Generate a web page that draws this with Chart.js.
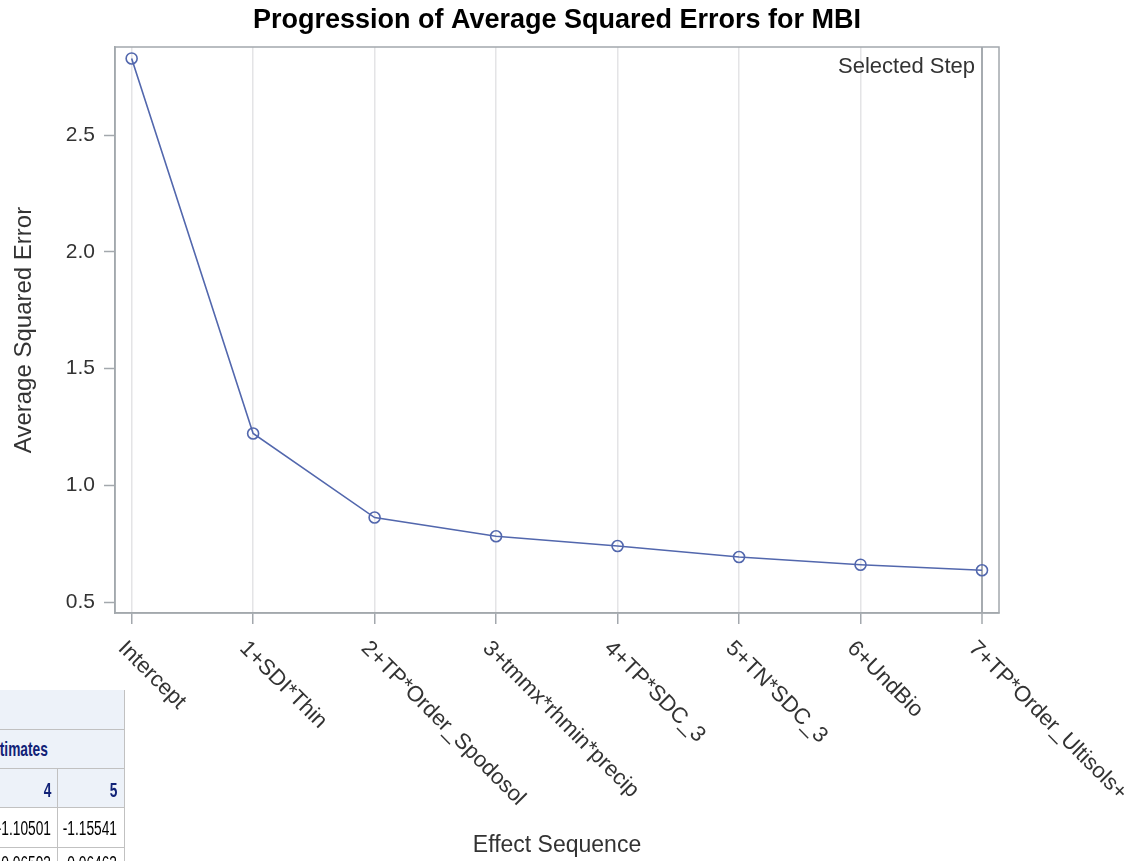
<!DOCTYPE html>
<html>
<head>
<meta charset="utf-8">
<title>Progression of Average Squared Errors for MBI</title>
<script src="https://cdn.jsdelivr.net/npm/chart.js@4.4.1/dist/chart.umd.min.js"></script>
<style>
  html, body { margin: 0; padding: 0; background: #fff; width: 1132px; height: 861px; overflow: hidden; }
  #wrap { position: absolute; left: 0; top: 0; width: 1132px; height: 861px; }
  #est { position: absolute; left: 0; top: 690px; width: 125px; height: 171px; overflow: hidden;
         font-family: "Liberation Sans", Arial, sans-serif; }
  .row { position: absolute; left: 0; width: 124px; border-right: 1px solid #c1c1c1; border-bottom: 1px solid #c1c1c1; background: #fff; }
  .hdr { background: #edf2f9; }
  .t { position: absolute; top: 0; white-space: nowrap; font-size: 20.5px; transform: scaleX(0.67); transform-origin: right center; color: #000; }
  .hdr .t { color: #112277; font-weight: bold; }
  .vline { position: absolute; left: 57px; top: 79px; width: 1px; height: 92px; background: #c1c1c1; }
</style>
</head>
<body>
<div id="wrap"><canvas id="chart" width="1132" height="861"></canvas></div>

<div id="est">
  <div class="row hdr" style="top:0;height:39px;"></div>
  <div class="row hdr" style="top:40px;height:38px;"><span class="t" style="right:76px;line-height:38px;">Estimates</span></div>
  <div class="row hdr" style="top:79px;height:38px;">
    <span class="t" style="right:73px;line-height:41px;">4</span>
    <span class="t" style="right:7px;line-height:41px;">5</span>
  </div>
  <div class="row" style="top:118px;height:39px;">
    <span class="t" style="right:73px;line-height:40px;">-1.10501</span>
    <span class="t" style="right:7px;line-height:40px;">-1.15541</span>
  </div>
  <div class="row" style="top:158px;height:40px;">
    <span class="t" style="right:73px;line-height:30px;">-0.06593</span>
    <span class="t" style="right:7px;line-height:30px;">-0.06463</span>
  </div>
  <div class="vline"></div>
</div>

<script>
// Effects entered at each step of the selection
const effectSteps = [
  'Intercept',
  '1+SDI*Thin',
  '2+TP*Order_Spodosol',
  '3+tmmx*rhmin*precip',
  '4+TP*SDC_3',
  '5+TN*SDC_3',
  '6+UndBio',
  '7+TP*Order_Ultisols+'
];

// Average squared error after each step
const aseValues = [2.829, 1.222, 0.862, 0.782, 0.740, 0.693, 0.660, 0.636];

// Y axis tick values
const yTickValues = [0.5, 1.0, 1.5, 2.0, 2.5];

// Step chosen by the selection criterion
const selectedStep = 7;

const FONT = '"Liberation Sans", Arial, Helvetica, sans-serif';
const AXIS_COLOR = '#a3a8ad';
const LINE_COLOR = '#5267ad';
const TEXT_COLOR = '#333333';

// Frame, rotated step labels and the selected-step caption
const stepOverlay = {
  id: 'stepOverlay',
  afterDraw(chart) {
    const { ctx, chartArea: a, scales: { x } } = chart;
    ctx.save();
    ctx.strokeStyle = AXIS_COLOR;
    ctx.lineWidth = 1.5;
    ctx.strokeRect(a.left, a.top, a.right - a.left, a.bottom - a.top);

    ctx.fillStyle = TEXT_COLOR;
    ctx.font = '22px ' + FONT;
    ctx.textAlign = 'right';
    ctx.textBaseline = 'middle';
    ctx.fillText('Selected Step', x.getPixelForValue(selectedStep) - 7, a.top + 20);

    ctx.textAlign = 'left';
    effectSteps.forEach((label, i) => {
      const px = x.getPixelForValue(i);
      ctx.save();
      ctx.translate(px - 10, a.bottom + 32);
      ctx.rotate(Math.PI / 4);
      ctx.fillText(label, 0, 0);
      ctx.restore();
    });
    ctx.restore();
  }
};

new Chart(document.getElementById('chart'), {
  type: 'line',
  data: {
    datasets: [{
      label: 'Average Squared Error',
      data: aseValues.map((v, i) => ({ x: i, y: v })),
      borderColor: LINE_COLOR,
      borderWidth: 1.6,
      pointRadius: 5.5,
      pointHoverRadius: 5.5,
      pointBorderWidth: 1.6,
      pointBorderColor: LINE_COLOR,
      pointBackgroundColor: 'rgba(0,0,0,0)',
      tension: 0,
      fill: false
    }]
  },
  options: {
    responsive: false,
    animation: false,
    events: [],
    layout: { padding: { left: 0, right: 133, top: 0, bottom: 0 } },
    plugins: {
      legend: { display: false },
      tooltip: { enabled: false },
      title: {
        display: true,
        fullSize: false,
        text: 'Progression of Average Squared Errors for MBI',
        color: '#000',
        font: { family: FONT, size: 27, weight: 'bold', lineHeight: 1.2 },
        padding: { top: 4, bottom: 10.6 }
      }
    },
    scales: {
      x: {
        type: 'linear',
        min: -0.137,
        max: 7.14,
        afterBuildTicks: s => { s.ticks = effectSteps.map((_, i) => ({ value: i })); },
        afterFit: s => { s.height = 248; },
        ticks: { display: false },
        grid: {
          drawOnChartArea: true,
          color: c => (c.tick && c.tick.value === selectedStep) ? '#a6abb0' : '#e4e4e6',
          lineWidth: c => (c.tick && c.tick.value === selectedStep) ? 2 : 1.5,
          tickColor: AXIS_COLOR,
          tickWidth: 1.5,
          tickLength: 11
        },
        border: { display: true, color: AXIS_COLOR, width: 1.5 },
        title: {
          display: true,
          text: 'Effect Sequence',
          color: TEXT_COLOR,
          font: { family: FONT, size: 23, lineHeight: 1.2 },
          padding: { top: 0, bottom: 2 }
        }
      },
      y: {
        type: 'linear',
        min: 0.453,
        max: 2.878,
        afterBuildTicks: s => { s.ticks = yTickValues.map(v => ({ value: v })); },
        afterFit: s => { s.width = 115; },
        ticks: {
          color: TEXT_COLOR,
          font: { family: FONT, size: 21 },
          padding: 9,
          callback: v => Number(v).toFixed(1)
        },
        grid: {
          drawOnChartArea: false,
          tickColor: AXIS_COLOR,
          tickWidth: 1.5,
          tickLength: 11
        },
        border: { display: true, color: AXIS_COLOR, width: 1.5 },
        title: {
          display: true,
          text: 'Average Squared Error',
          color: TEXT_COLOR,
          font: { family: FONT, size: 24, lineHeight: 1.2 },
          padding: { top: 10, bottom: 0 }
        }
      }
    }
  },
  plugins: [stepOverlay]
});
</script>
</body>
</html>
